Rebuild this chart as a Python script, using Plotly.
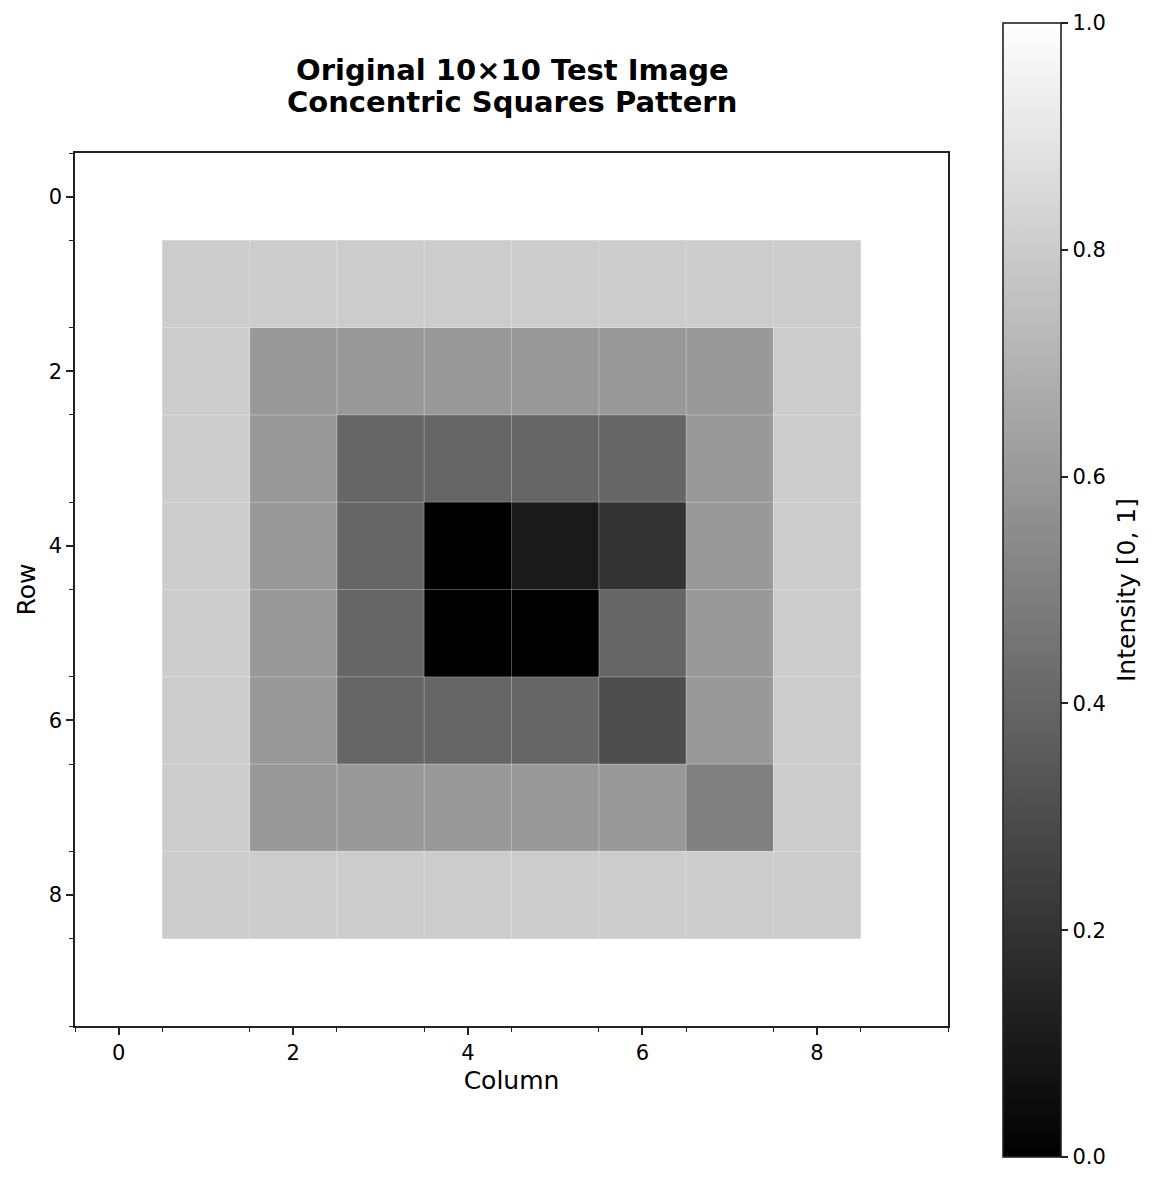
import numpy as np
import plotly.graph_objects as go

cols = list(range(10))
rows = list(range(10))
intensity = [
    [1.0, 1.0, 1.0, 1.0, 1.0, 1.0, 1.0, 1.0, 1.0, 1.0],
    [1.0, 0.8, 0.8, 0.8, 0.8, 0.8, 0.8, 0.8, 0.8, 1.0],
    [1.0, 0.8, 0.6, 0.6, 0.6, 0.6, 0.6, 0.6, 0.8, 1.0],
    [1.0, 0.8, 0.6, 0.4, 0.4, 0.4, 0.4, 0.6, 0.8, 1.0],
    [1.0, 0.8, 0.6, 0.4, 0.0, 0.1, 0.2, 0.6, 0.8, 1.0],
    [1.0, 0.8, 0.6, 0.4, 0.0, 0.0, 0.4, 0.6, 0.8, 1.0],
    [1.0, 0.8, 0.6, 0.4, 0.4, 0.4, 0.3, 0.6, 0.8, 1.0],
    [1.0, 0.8, 0.6, 0.6, 0.6, 0.6, 0.6, 0.5, 0.8, 1.0],
    [1.0, 0.8, 0.8, 0.8, 0.8, 0.8, 0.8, 0.8, 0.8, 1.0],
    [1.0, 1.0, 1.0, 1.0, 1.0, 1.0, 1.0, 1.0, 1.0, 1.0],
]
major_ticks = [0, 2, 4, 6, 8]
cbar_ticks = [0.0, 0.2, 0.4, 0.6, 0.8, 1.0]
title_lines = ["Original 10×10 Test Image", "Concentric Squares Pattern"]

FONT = "DejaVu Sans"
W, H = 1154, 1184
OFF = 8  # page offset observed in rendering
PL, PR, PT, PB = 75, 948, 153, 1026  # plot area in page pixels
L, R, T, B = PL - OFF, PR - OFF, PT - OFF, PB - OFF
pw = R - L
ph = B - T


def px_x(xp):
    return (xp - PL) / pw


def px_y(yp):
    return (PB - yp) / ph


fig = go.Figure()
fig.add_trace(go.Heatmap(
    z=intensity, x=cols, y=rows,
    colorscale=[[0, "#000000"], [1, "#ffffff"]],
    zmin=0, zmax=1,
    hoverinfo="skip",
    colorbar=dict(
        thickness=58, thicknessmode="pixels",
        len=1134, lenmode="pixels",
        x=px_x(1003), xanchor="left", xpad=0,
        y=px_y(590), yanchor="middle", ypad=0,
        outlinewidth=1.6, outlinecolor="#222222",
        ticks="outside", ticklen=7, tickwidth=1.6, tickcolor="#222222",
        tickvals=cbar_ticks, tickformat=".1f",
        tickfont=dict(family=FONT, size=21, color="#000000"),
    ),
))

edges_x = np.arange(len(cols) + 1) - 0.5
edges_y = np.arange(len(rows) + 1) - 0.5
grid_color = "rgba(255,255,255,0.3)"
for e in edges_x:
    fig.add_shape(type="line", xref="x", yref="y", x0=e, x1=e,
                  y0=edges_y[0], y1=edges_y[-1], layer="above",
                  line=dict(color=grid_color, width=1))
for e in edges_y:
    fig.add_shape(type="line", xref="x", yref="y", y0=e, y1=e,
                  x0=edges_x[0], x1=edges_x[-1], layer="above",
                  line=dict(color=grid_color, width=1))

axis_common = dict(
    showline=True, mirror=True, linecolor="#222222", linewidth=1.6,
    ticks="outside", ticklen=7, tickwidth=1.6, tickcolor="#222222",
    tickvals=major_ticks, showgrid=False, zeroline=False, automargin=False,
    tickfont=dict(family=FONT, size=21, color="#000000"),
    minor=dict(tick0=-0.5, dtick=1, ticks="outside", ticklen=4,
               tickwidth=1.2, tickcolor="#222222", showgrid=False),
)

for txt, yp in zip(title_lines, [70, 102]):
    fig.add_annotation(text=f"<b>{txt}</b>", xref="paper", yref="paper",
                       x=px_x(512), y=px_y(yp), xanchor="center", yanchor="middle",
                       showarrow=False,
                       font=dict(family=FONT, size=29, color="#000000"))

fig.add_annotation(text="Intensity [0, 1]", xref="paper", yref="paper",
                   x=px_x(1126), y=px_y(590), xanchor="center", yanchor="middle",
                   textangle=-90, showarrow=False,
                   font=dict(family=FONT, size=25, color="#000000"))

fig.update_layout(
    width=W, height=H,
    margin=dict(l=L, r=W - R, t=T, b=H - B),
    paper_bgcolor="white", plot_bgcolor="white",
    xaxis=dict(range=[edges_x[0], edges_x[-1]],
               title=dict(text="Column", font=dict(family=FONT, size=25, color="#000000"), standoff=7),
               **axis_common),
    yaxis=dict(range=[edges_y[-1], edges_y[0]],
               title=dict(text="Row", font=dict(family=FONT, size=25, color="#000000"), standoff=6),
               **axis_common),
)

fig.write_html("out.html")
